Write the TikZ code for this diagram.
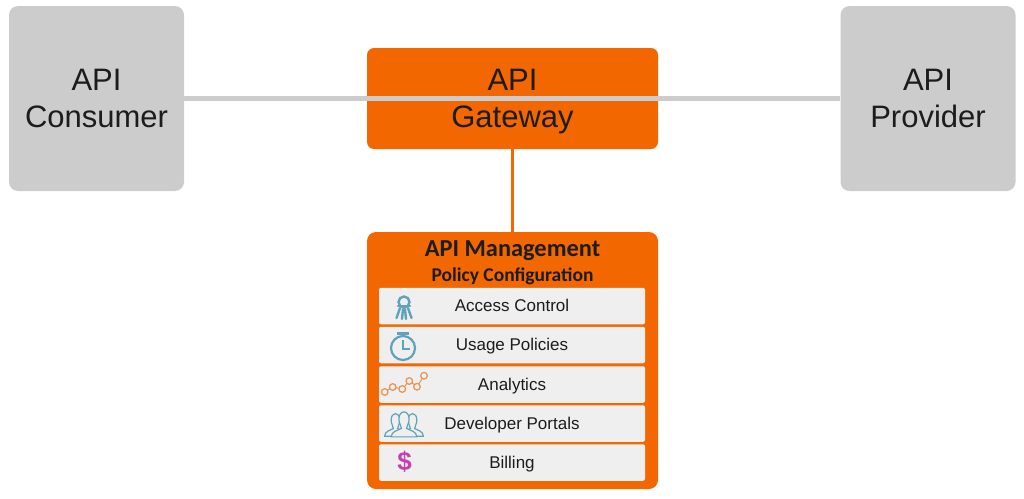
\documentclass[tikz,border=0pt]{standalone}
\usepackage{fontspec}
\setmainfont{Liberation Sans}
\newfontfamily\titlefont{Carlito}
\definecolor{boxgray}{RGB}{204,204,204}
\definecolor{gwOrange}{RGB}{242,103,0}
\definecolor{rowgray}{RGB}{239,239,239}
\definecolor{inkdark}{RGB}{28,28,28}
\definecolor{iconTeal}{RGB}{96,162,186}
\definecolor{iconOrange}{RGB}{232,150,90}
\definecolor{iconPink}{RGB}{196,64,176}
\tikzset{
  bigbox/.style={rounded corners=9pt,inner sep=0pt,align=center,text=inkdark,text depth=0pt,
    font=\fontsize{31}{37}\selectfont},
  sidebox/.style={bigbox,fill=boxgray,minimum width=175pt,minimum height=185pt},
  policyrow/.style={fill=rowgray,rounded corners=2pt,inner sep=0pt,text=inkdark,
    text height=13.5pt,text depth=2.5pt,
    minimum width=266pt,minimum height=36.5pt,font=\fontsize{17}{20}\selectfont},
  link/.style={line width=5pt,color=boxgray}
}
\begin{document}
\begin{tikzpicture}[x=1pt,y=1pt,yscale=-1,xscale=1]
\useasboundingbox (0,0) rectangle (1024,498);

%outer boxes
\node[sidebox] (consumer) at (96.5,98.5) {API\\Consumer};
\node[sidebox] (provider) at (928,98.5) {API\\Provider};
\node[bigbox,fill=gwOrange,rounded corners=7pt,minimum width=291pt,minimum height=101pt] (gateway) at (512.5,98.5) {API\\Gateway};
\node[fill=gwOrange,rounded corners=9pt,minimum width=291pt,minimum height=257pt,inner sep=0pt] (mgmt) at (512.5,360.5) {};

%links
\draw[link] (consumer.east) -- (provider.west);
\draw[line width=3pt,color=gwOrange] (gateway.south) -- (mgmt.north);

%titles
\node[font=\titlefont\bfseries\fontsize{24.4}{28}\selectfont,text=inkdark] (mgmttitle) at (512.5,251) {API Management};
\node[font=\titlefont\bfseries\fontsize{19.5}{22}\selectfont,text=inkdark] (policytitle) at (512.5,276) {Policy Configuration};

%policy rows
\node[policyrow] (access) at (512,306) {Access Control};
\node[policyrow] (usage) at (512,345) {Usage Policies};
\node[policyrow] (analytics) at (512,384.5) {Analytics};
\node[policyrow] (portals) at (512,423.5) {Developer Portals};
\node[policyrow] (billing) at (512,462.5) {Billing};

%ribbon icon
\draw[iconTeal,line width=2.4pt] (404,302) circle (5.5pt);
\draw[iconTeal,line width=2.4pt,line cap=round] (398,306) -- (410,306);
\draw[iconTeal,line width=2.4pt,line cap=round] (400,308) -- (396.5,318) (403,309) -- (402,319) (405,309) -- (406,319) (408,308) -- (411.5,318);

%stopwatch icon
\draw[iconTeal,line width=2.2pt] (403,348) circle (12pt);
\draw[iconTeal,line width=2.2pt] (397,333.5) -- (409,333.5) (403,334) -- (403,336);
\draw[iconTeal,line width=1.8pt] (403,340) -- (403,349) -- (410,349);

%analytics icon
\draw[iconOrange,line width=1pt] (384.7,392) -- (392.7,387) -- (402.3,389) -- (409.3,381) -- (417,386.7) -- (424,375.7);
\foreach \px/\py in {384.7/392,392.7/387,402.3/389,409.3/381,417/386.7,424/375.7}
  \draw[iconOrange,line width=1.3pt,fill=rowgray] (\px,\py) circle (3.3pt);

%people icon
\foreach \px/\py/\sx/\sy in {395.5/420/0.72/0.95,412.5/420/0.72/0.95,404/419/0.85/1.05}{
  \begin{scope}[shift={(\px,\py)},xscale=\sx,yscale=\sy]
    \draw[iconTeal,line width=1.2pt,fill=rowgray] (-6,0) .. controls (-6,-9) and (6,-9) .. (6,0) .. controls (6,5) and (3,6) .. (3,9) .. controls (8,11) and (15,12) .. (15,17) -- (-15,17) .. controls (-15,12) and (-8,11) .. (-3,9) .. controls (-3,6) and (-6,5) .. (-6,0) -- cycle;
  \end{scope}
}

%dollar icon
\node[text=iconPink,font=\bfseries\fontsize{26}{30}\selectfont,inner sep=0pt] (dollar) at (404.5,461.5) {\$};

\end{tikzpicture}
\end{document}
